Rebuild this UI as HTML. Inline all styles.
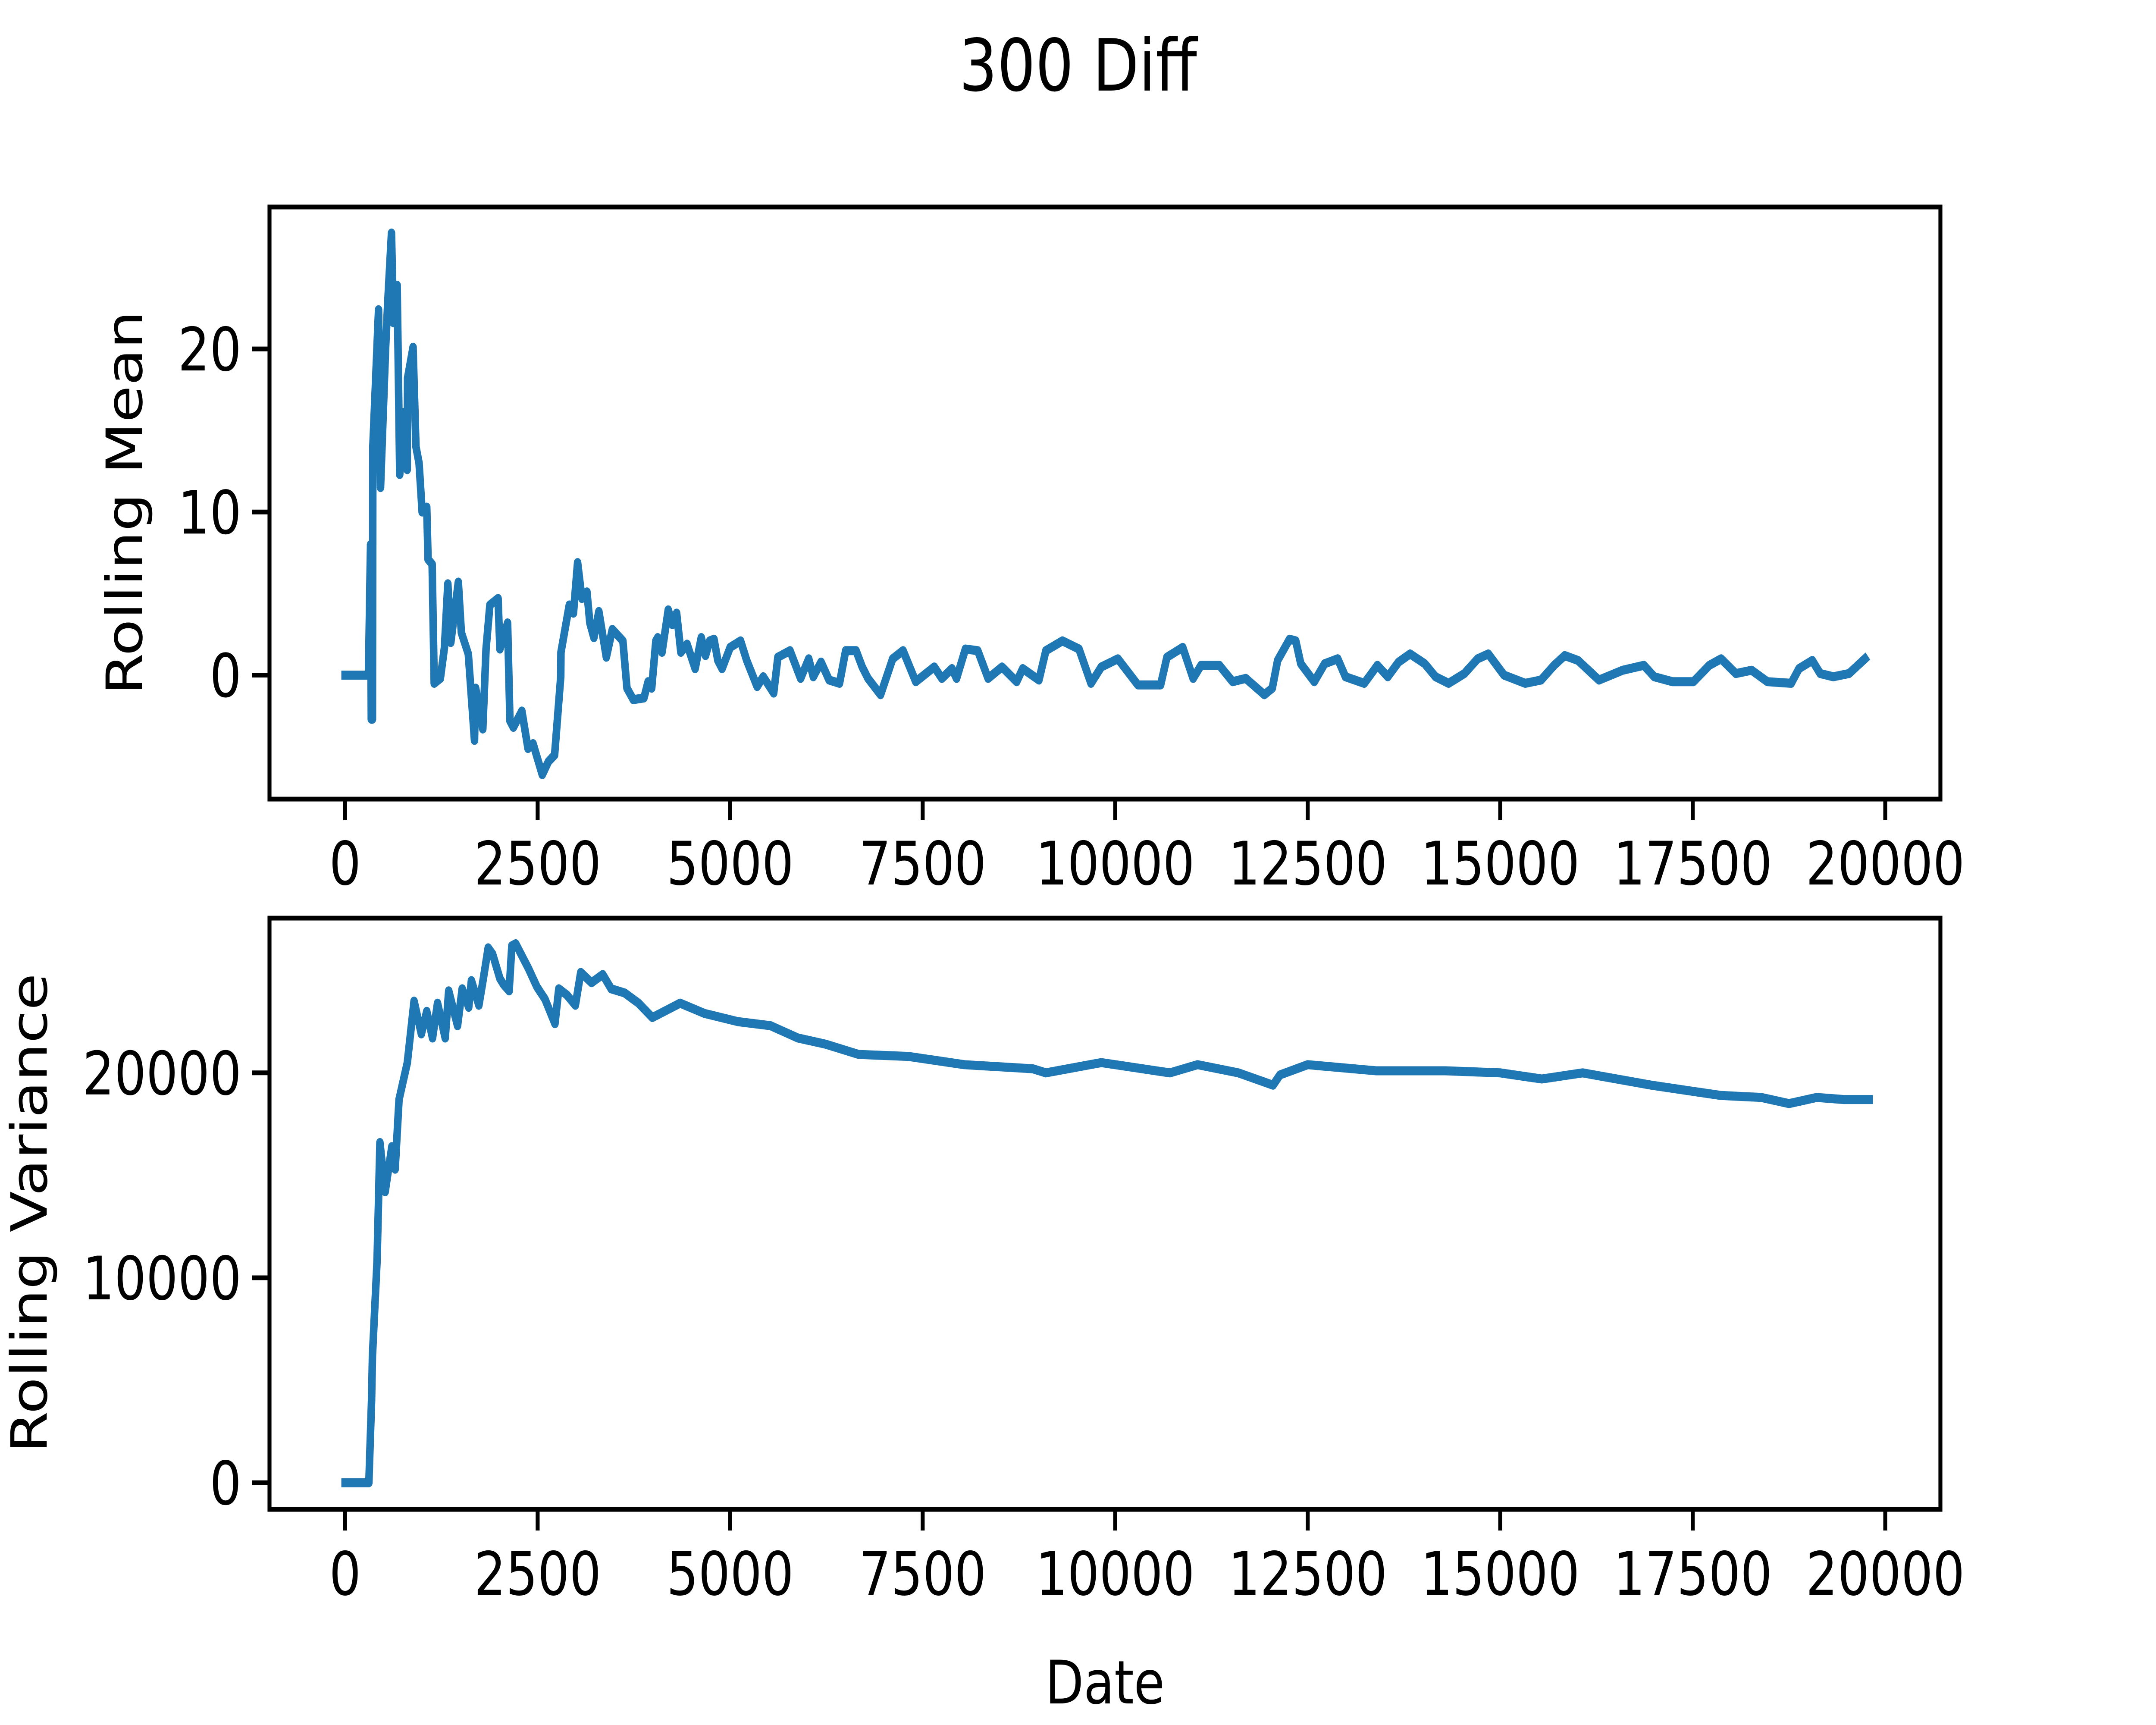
<!DOCTYPE html>
<html><head><meta charset="utf-8"><title>300 Diff</title>
<style>html,body{margin:0;padding:0;background:#fff;overflow:hidden;width:100%;height:100%}svg{display:block;width:100vw;height:100vh}text{font-family:"DejaVu Sans","Liberation Sans",sans-serif;fill:#000}</style>
</head><body>
<svg id="fig" xmlns="http://www.w3.org/2000/svg" viewBox="0 0 6000 4000" preserveAspectRatio="none">
<rect width="6000" height="4000" fill="#fff"/>
<text x="3000" y="210" font-size="167" text-anchor="middle">300 Diff</text>
<g id="ax1"></g>
<g id="ax2"></g>
<text x="0" y="0" font-size="139" text-anchor="middle" transform="translate(395,1166) rotate(-90)">Rolling Mean</text>
<text x="0" y="0" font-size="139" text-anchor="middle" transform="translate(130,2813) rotate(-90)">Rolling Variance</text>
<text x="3075" y="3950" font-size="139" text-anchor="middle">Date</text>
</svg>
<script>
const xTicks = [0, 2500, 5000, 7500, 10000, 12500, 15000, 17500, 20000];
const meanTicks = [0, 10, 20];
const varTicks = [0, 10000, 20000];
const meanX = [0,303,330,340,355,360,434,460,525,555,602,628,676,709,757,806,811,882,920,960,1000,1060,1077,1130,1157,1237,1290,1334,1372,1470,1510,1600,1680,1695,1788,1830,1880,1986,2010,2110,2140,2185,2295,2375,2440,2560,2640,2720,2800,2803,2911,2965,3019,3075,3140,3178,3230,3295,3392,3470,3607,3660,3742,3880,3935,3981,4035,4060,4115,4196,4250,4305,4360,4440,4545,4625,4680,4735,4790,4840,4895,5000,5135,5215,5350,5430,5565,5620,5777,5915,6020,6080,6180,6285,6420,6500,6635,6715,6790,6953,7110,7245,7410,7650,7750,7880,7940,8055,8215,8350,8530,8720,8800,9010,9100,9315,9530,9686,9820,10035,10295,10590,10672,10877,11012,11115,11353,11525,11695,11937,12040,12109,12264,12345,12410,12585,12720,12890,12990,13234,13405,13540,13680,13830,14020,14160,14330,14535,14707,14845,15050,15325,15530,15700,15838,16010,16282,16590,16865,17000,17237,17510,17715,17868,18060,18265,18470,18778,18880,19052,19155,19325,19530,19735];
const meanY = [0,0,8,-2.7,-2.7,14,22.4,11.5,20,23,27.1,21.6,23.9,12.3,16.1,12.6,18.2,20.1,14,13,10,10.3,7.1,6.8,-0.5,-0.2,1.7,5.6,2,5.7,2.6,1.3,-4,-0.8,-3.3,1.6,4.3,4.7,1.6,3.2,-2.8,-3.2,-2.2,-4.5,-4.2,-6.1,-5.3,-4.9,-0.1,1.4,4.3,3.8,6.9,4.7,5.1,3.2,2.3,3.9,1.1,2.8,2.1,-0.8,-1.5,-1.4,-0.4,-0.8,2.1,2.3,1.4,4,3.1,3.8,1.4,1.9,0.4,2.3,1.2,2.1,2.2,0.9,0.4,1.7,2.1,0.9,-0.7,-0.1,-1.1,1.1,1.5,-0.2,1,-0.1,0.8,-0.3,-0.5,1.5,1.5,0.5,-0.2,-1.2,1,1.5,-0.4,0.5,-0.2,0.4,-0.2,1.6,1.5,-0.2,0.5,-0.4,0.4,-0.3,1.5,2.1,1.6,-0.5,0.5,1,-0.6,-0.6,1.1,1.7,-0.2,0.6,0.6,-0.4,-0.2,-1.2,-0.8,0.9,2.2,2.1,0.7,-0.4,0.7,1,-0.1,-0.5,0.6,-0.1,0.8,1.3,0.7,-0.1,-0.5,0.1,1,1.3,0,-0.5,-0.3,0.6,1.2,0.9,-0.3,0.3,0.6,-0.1,-0.4,-0.4,0.6,1,0.1,0.3,-0.4,-0.5,0.4,0.9,0.1,-0.1,0.1,1];
const varX = [0,308,343,355,415,452,520,607,650,700,808,895,990,1060,1135,1200,1300,1345,1460,1520,1605,1640,1737,1795,1858,1915,2010,2060,2130,2165,2215,2380,2490,2595,2725,2775,2880,2990,3060,3200,3345,3455,3630,3810,3990,4350,4667,5100,5525,5880,6240,6668,7320,8040,8930,9100,9820,10710,11070,11600,12050,12140,12500,13390,14290,15000,15540,16070,16960,17860,18390,18750,19110,19460,19790];
const varY = [0,0,4000,6200,10850,16600,14200,16400,15300,18700,20500,23500,21900,23000,21700,23400,21700,24000,22300,24100,23200,24500,23300,24600,26100,25800,24600,24300,24000,26200,26300,25100,24200,23600,22400,24100,23800,23300,24900,24400,24800,24100,23900,23400,22700,23400,22900,22500,22300,21700,21400,20900,20800,20400,20200,20000,20500,20000,20400,20000,19400,19900,20400,20100,20100,20000,19700,20000,19400,18900,18800,18500,18800,18700,18700];

const NS = 'http://www.w3.org/2000/svg';
const L = 750, R = 5400, XMIN = -982, XMAX = 20716;
function xs(v){ return L + (v - XMIN) / (XMAX - XMIN) * (R - L); }
function mk(tag, attrs, parent){ const e = document.createElementNS(NS, tag); for (const k in attrs) e.setAttribute(k, attrs[k]); parent.appendChild(e); return e; }

function drawAxes(g, top, bot, ymin, ymax, yTicks, xv, yv, key){
  const ys = v => bot - (v - ymin) / (ymax - ymin) * (bot - top);
  const d = xv.map((x,i)=>(i?'L':'M')+xs(x).toFixed(1)+','+ys(yv[i]).toFixed(1)).join('');
  const line = mk('path', {d:d, fill:'none', stroke:'#1f77b4', 'stroke-width':21, 'stroke-linejoin':'round', 'stroke-linecap':'square'}, g);
  
  
  const frame = mk('rect', {x:L, y:top, width:R-L, height:bot-top, fill:'none', stroke:'#000', 'stroke-width':11}, g);
  
  
  xTicks.forEach(t => {
    const tk = mk('line', {x1:xs(t), x2:xs(t), y1:bot, y2:bot+49, stroke:'#000', 'stroke-width':11}, g);
    
    
    const tx = mk('text', {x:xs(t), y:bot+198, 'font-size':139, 'text-anchor':'middle'}, g);
    
    
    tx.textContent = t;
  });
  yTicks.forEach(t => {
    const tk = mk('line', {x1:L-49, x2:L, y1:ys(t), y2:ys(t), stroke:'#000', 'stroke-width':11}, g);
    
    
    const tx = mk('text', {x:L-78, y:ys(t)+50, 'font-size':139, 'text-anchor':'end'}, g);
    
    
    tx.textContent = t;
  });
}
drawAxes(document.getElementById('ax1'), 480, 1853, -7.6, 28.7, meanTicks, meanX, meanY, 'rolling-mean');
drawAxes(document.getElementById('ax2'), 2129, 3500, -1300, 27550, varTicks, varX, varY, 'rolling-variance');
</script>
</body></html>
